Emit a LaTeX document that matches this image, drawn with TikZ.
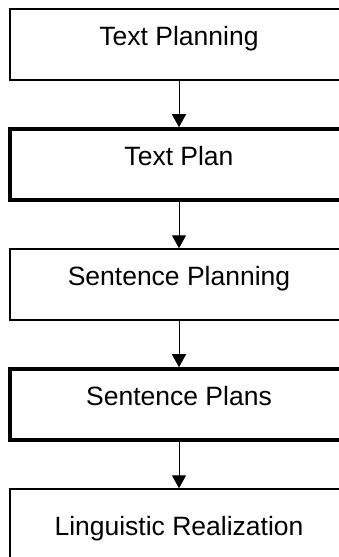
\documentclass[tikz,border=0pt]{standalone}
\usepackage{fontspec}
\setmainfont{Liberation Sans}
\usetikzlibrary{arrows.meta}
\tikzset{
  stagebox/.style={draw=black, line width=1.4pt, fill=white, minimum width=338pt,
    minimum height=71pt, inner sep=0pt, text height=19pt, text depth=17pt,
    font=\fontsize{26.5}{30}\selectfont},
  databox/.style={stagebox, line width=3.6pt},
  flow/.style={draw=black, line width=1pt, -{Triangle[width=14pt,length=13pt]}}
}
\begin{document}
\begin{tikzpicture}[x=1pt,y=1pt]
\useasboundingbox (0,0) rectangle (339,-557);
\clip (0,0) rectangle (339,-557);
\node[stagebox] (tplanning) at (179,-44.5) {Text Planning};
\node[databox] (tplan) at (179,-164.5) {Text Plan};
\node[stagebox] (splanning) at (179,-284.5) {Sentence Planning};
\node[databox] (splans) at (179,-404.5) {Sentence Plans};
\node[stagebox, minimum height=90pt] (realize) at (179,-534) {Linguistic Realization};
\draw[flow] (tplanning.south) -- (tplan.north);
\draw[flow] (tplan.south) -- (splanning.north);
\draw[flow] (splanning.south) -- (splans.north);
\draw[flow] (splans.south) -- (realize.north);
\end{tikzpicture}
\end{document}
